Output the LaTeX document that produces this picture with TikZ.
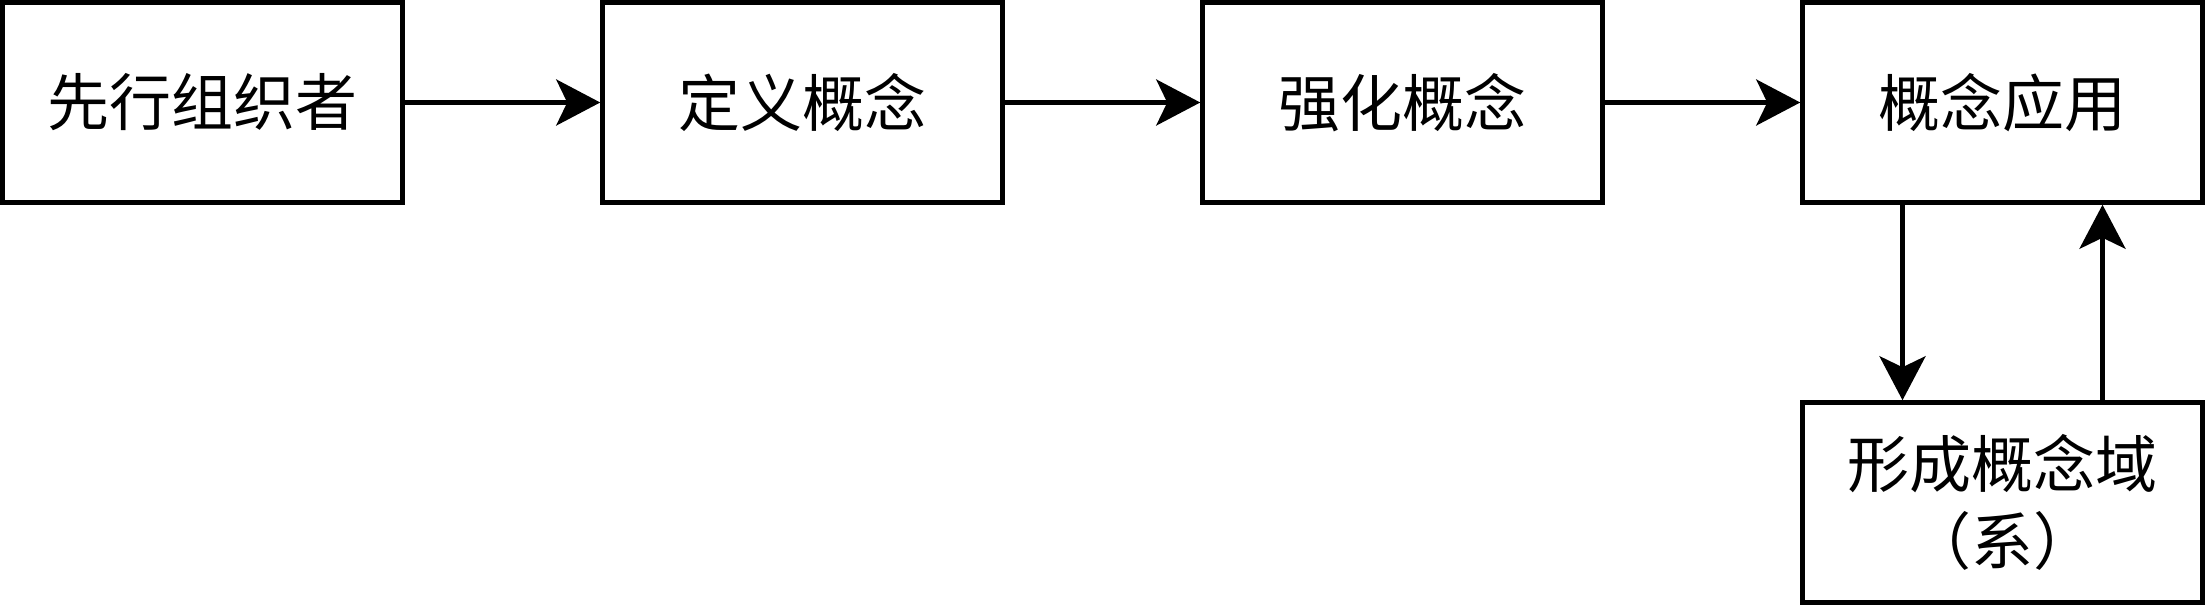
\documentclass[tikz,border=0pt]{standalone}
\usepackage{fontspec}
\setmainfont{Noto Sans CJK SC}
\usetikzlibrary{positioning}
\usetikzlibrary{arrows.meta}
\tikzstyle{box}     = [rectangle, draw, line width=4.5pt,
                        minimum width=400pt, minimum height=200pt,
                        align=center, font=\fontsize{62pt}{77pt}\selectfont]
\tikzstyle{arrow}   = [line width=4.5pt, -{Stealth[length=44pt, width=46pt, inset=11pt]}]

\begin{document}
\begin{tikzpicture}[x=1pt, y=1pt, node distance=195.5pt]
\useasboundingbox (0,0) rectangle (2205,605);
\node (organizer) [box] at (202.5,502.5) {先行组织者};
\node (define) [box, right=of organizer] {定义概念};
\node (strengthen) [box, right=of define] {强化概念};
\node (apply) [box, right=of strengthen] {概念应用};
\node (domain) [box, below=of apply] {形成概念域\\（系）};
\draw [arrow] (organizer) -- (define);
\draw [arrow] (define) -- (strengthen);
\draw [arrow] (strengthen) -- (apply);
\draw [arrow] ([xshift=-100pt]apply.south) -- ([xshift=-100pt]domain.north);
\draw [arrow] ([xshift=100pt]domain.north) -- ([xshift=100pt]apply.south);
\end{tikzpicture}
\end{document}
